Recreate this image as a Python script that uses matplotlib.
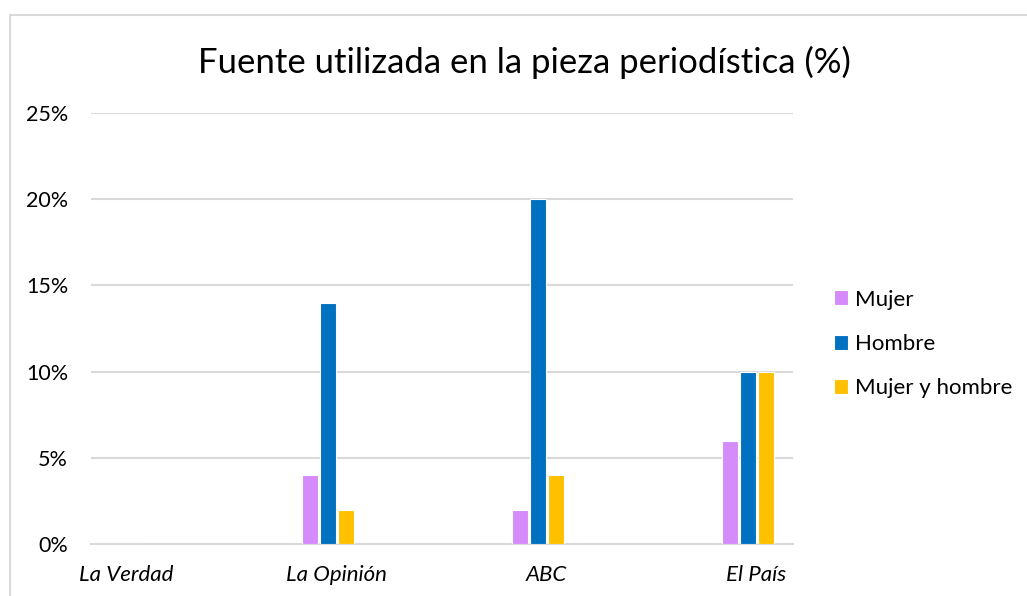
import matplotlib
matplotlib.use("Agg")
import matplotlib.pyplot as plt
from matplotlib.patches import Rectangle
import numpy as np

categories = ["La Verdad", "La Opinión", "ABC", "El País"]
series_names = ["Mujer", "Hombre", "Mujer y hombre"]
mujer = [0, 4, 2, 6]
hombre = [0, 14, 20, 10]
mujer_y_hombre = [0, 2, 4, 10]
yticks = [0, 5, 10, 15, 20, 25]
colors = ["#D68BFA", "#0070C0", "#FFC000"]

W, H = 1027, 596
fig = plt.figure(figsize=(W / 100, H / 100), dpi=100)
FONT = "Lato"

# outer chart border
fig.patches.append(Rectangle((10 / W, -0.05), 1.1, (H - 15) / H + 0.05,
                             transform=fig.transFigure, fill=False,
                             edgecolor="#D9D9D9", linewidth=1.5))

ax = fig.add_axes([91 / W, 52 / H, (793 - 91) / W, (544 - 113) / H])
x = np.arange(len(categories))
off = 0.087
bw = 0.078
for i, (vals, c, name) in enumerate(zip([mujer, hombre, mujer_y_hombre], colors, series_names)):
    ax.bar(x + (i - 1) * off, vals, width=bw, color=c, edgecolor="white",
           linewidth=0.8, label=name, zorder=3)

ax.set_xlim((91 - 118) / 210, (793 - 118) / 210)
ax.set_ylim(0, 25)
ax.set_yticks(yticks)
ax.set_yticklabels([f"{v}%" for v in yticks], fontsize=15.5, fontfamily=FONT)
ax.set_xticks(x + 0.04)
ax.set_xticklabels(categories, fontsize=16, fontfamily=FONT, style="italic")
ax.tick_params(axis="both", length=0)
ax.tick_params(axis="y", pad=16.5)
ax.tick_params(axis="x", pad=15)
ax.grid(axis="y", color="#D9D9D9", linewidth=1.5, zorder=0)
for s in ["top", "right", "left"]:
    ax.spines[s].set_visible(False)
ax.spines["bottom"].set_color("#D9D9D9")
ax.spines["bottom"].set_linewidth(1.5)

fig.text(524 / W, 1 - 62 / H, "Fuente utilizada en la pieza periodística (%)",
         ha="center", va="center", fontsize=25, fontfamily=FONT)

leg = fig.legend(loc="center left", bbox_to_anchor=(814 / W, 1 - 344 / H),
                 frameon=False, prop={"family": FONT, "size": 16},
                 handlelength=0.65, handleheight=0.65, handletextpad=0.3,
                 labelspacing=1.1)

fig.savefig("out.png", dpi=100)
